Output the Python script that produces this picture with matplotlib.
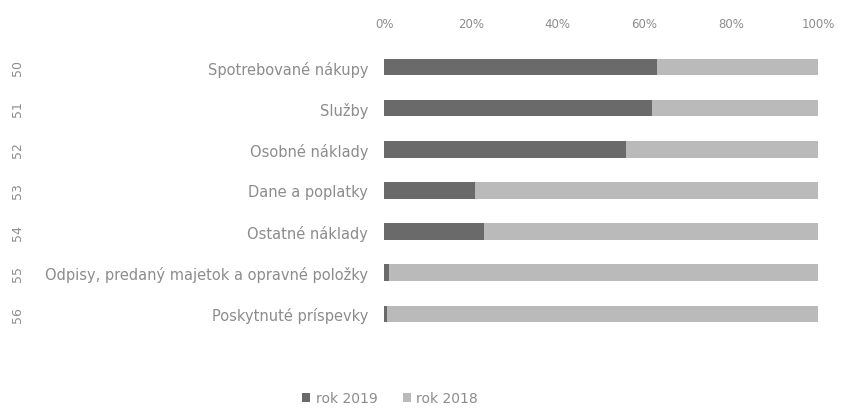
import matplotlib
matplotlib.use("Agg")
import matplotlib.pyplot as plt
from matplotlib.ticker import PercentFormatter
import matplotlib.transforms as mtransforms

categories = ["Spotrebované nákupy", "Služby", "Osobné náklady", "Dane a poplatky",
              "Ostatné náklady", "Odpisy, predaný majetok a opravné položky",
              "Poskytnuté príspevky"]
codes = ["50", "51", "52", "53", "54", "55", "56"]
rok_2019 = [63.0, 61.7, 55.7, 21.0, 23.1, 1.2, 0.6]
rok_2018 = [100 - v for v in rok_2019]
xticks = [0, 20, 40, 60, 80, 100]

dark = "#6a6a6a"
light = "#bababa"
txt = "#8c8c8c"

fig = plt.figure(figsize=(8.41, 4.10), dpi=100)
ax = fig.add_axes([0.4566, 0.182, 0.5161, 0.702])

y = list(range(len(categories)))
ax.barh(y, rok_2019, height=0.4, color=dark, label="rok 2019")
ax.barh(y, rok_2018, left=rok_2019, height=0.4, color=light, label="rok 2018")
ax.set_ylim(len(categories) - 0.5, -0.5)
ax.set_xlim(0, 100)
ax.set_yticks(y)
ax.set_yticklabels(categories, fontsize=10.5, color=txt)
ax.tick_params(axis="y", length=0, pad=11.5)
ax.xaxis.tick_top()
ax.set_xticks(xticks)
ax.xaxis.set_major_formatter(PercentFormatter(decimals=0))
ax.tick_params(axis="x", length=0, pad=12, labelsize=8.5, labelcolor=txt)
for s in ax.spines.values():
    s.set_visible(False)

trans = mtransforms.blended_transform_factory(fig.transFigure, ax.transData)
for yi, c in zip(y, codes):
    ax.text(17 / 841, yi, c, transform=trans, rotation=90, ha="center", va="center",
            fontsize=9, color=txt)

fig.legend(loc="center", bbox_to_anchor=(390 / 841, 1 - 399 / 410), ncol=2, frameon=False,
           fontsize=10, labelcolor=txt, handlelength=0.6, handleheight=0.6,
           handletextpad=0.4, columnspacing=1.8)

fig.savefig("out.png", dpi=100, facecolor="white")
